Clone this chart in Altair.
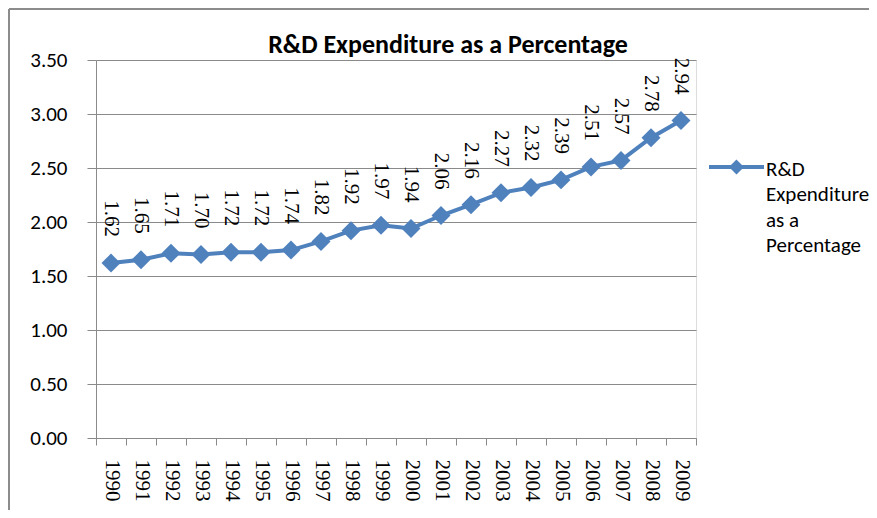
import json
import altair as alt
import pandas as pd

YEARS = ["1990", "1991", "1992", "1993", "1994", "1995", "1996", "1997", "1998", "1999",
         "2000", "2001", "2002", "2003", "2004", "2005", "2006", "2007", "2008", "2009"]
VALUES = [1.62, 1.65, 1.71, 1.70, 1.72, 1.72, 1.74, 1.82, 1.92, 1.97,
          1.94, 2.06, 2.16, 2.27, 2.32, 2.39, 2.51, 2.57, 2.78, 2.94]
Y_TICKS = [0.0, 0.5, 1.0, 1.5, 2.0, 2.5, 3.0, 3.5]
SERIES = "R&D Expenditure as a Percentage"
LEGEND_LINES = ["R&D", "Expenditure", "as a", "Percentage"]
TITLE = "R&D Expenditure as a Percentage"

BLUE = "#4F81BD"
GRID = "#8A8A8A"
SANS = "Carlito, Lato, sans-serif"
SERIF = "Liberation Serif, Times New Roman, serif"

df = pd.DataFrame({"year": YEARS, "value": VALUES, "series": [SERIES] * len(YEARS)})

W, H = 600, 378
PAD_L, PAD_T = 88, 52
SVG_W, SVG_H = 861, 502

base = alt.Chart(df).encode(
    x=alt.X(
        "year:O", sort=None, title=None,
        scale=alt.Scale(type="band", paddingInner=0, paddingOuter=0),
        axis=alt.Axis(
            tickBand="extent", labelAngle=90, labelFont=SERIF, labelFontSize=21,
            labelColor="black", labelPadding=14, tickSize=7, tickColor=GRID,
            domainColor=GRID, grid=False, labelAlign="left", labelBaseline="middle",
        ),
    ),
    y=alt.Y(
        "value:Q", title=None,
        scale=alt.Scale(domain=[0, 3.5], nice=False, zero=True),
        axis=alt.Axis(
            values=Y_TICKS, format=".2f", labelFont=SANS, labelFontSize=21,
            labelColor="black", labelPadding=20, tickSize=9, tickColor=GRID,
            domainColor=GRID, gridColor=GRID, grid=True,
        ),
    ),
)

line = base.mark_line(color=BLUE, strokeWidth=4)

points = base.mark_point(shape="diamond", filled=True, size=360, opacity=1).encode(
    color=alt.Color(
        "series:N", scale=alt.Scale(range=[BLUE]),
        legend=alt.Legend(
            title=None, orient="none", legendX=611, legendY=69,
            symbolType="M-1,0.31H1M0,0.14L0.17,0.31L0,0.48L-0.17,0.31Z",
            symbolSize=3025, symbolStrokeWidth=4, symbolFillColor=BLUE,
            symbolStrokeColor=BLUE, labelFont=SANS, labelFontSize=21,
            labelColor="black", labelLimit=300, labelOffset=0,
            labelBaseline="top",
            labelExpr=json.dumps(LEGEND_LINES),
        ),
    )
)

labels = base.mark_text(
    angle=90, align="right", baseline="middle", dx=-26,
    font=SERIF, fontSize=21, color="black",
).encode(text=alt.Text("value:Q", format=".2f"))

frame_df = pd.DataFrame({"k": [0]})
top_border = alt.Chart(frame_df).mark_rule(color="#8C8C8C", strokeWidth=2).encode(
    x=alt.value(-PAD_L + 1), x2=alt.value(SVG_W - PAD_L), y=alt.value(-PAD_T + 1)
)
left_border = alt.Chart(frame_df).mark_rule(color="#8C8C8C", strokeWidth=2).encode(
    x=alt.value(-PAD_L + 1), y=alt.value(-PAD_T + 1), y2=alt.value(SVG_H - PAD_T)
)

chart = alt.layer(line, points, labels, top_border, left_border).properties(
    width=W, height=H,
    title=alt.Title(TITLE, font=SANS, fontSize=26, fontWeight="bold", color="black",
                    frame="group", anchor="middle", dx=52, offset=-71, baseline="alphabetic"),
    autosize=alt.AutoSizeParams(type="none"),
    padding={"left": PAD_L, "top": PAD_T, "right": SVG_W - PAD_L - W, "bottom": SVG_H - PAD_T - H},
).configure_view(stroke=None).configure(
    background="white",
    style={"guide-label": {"lineHeight": 25.5}},
)

chart.save("out.html", embed_options={"renderer": "svg", "actions": False})
